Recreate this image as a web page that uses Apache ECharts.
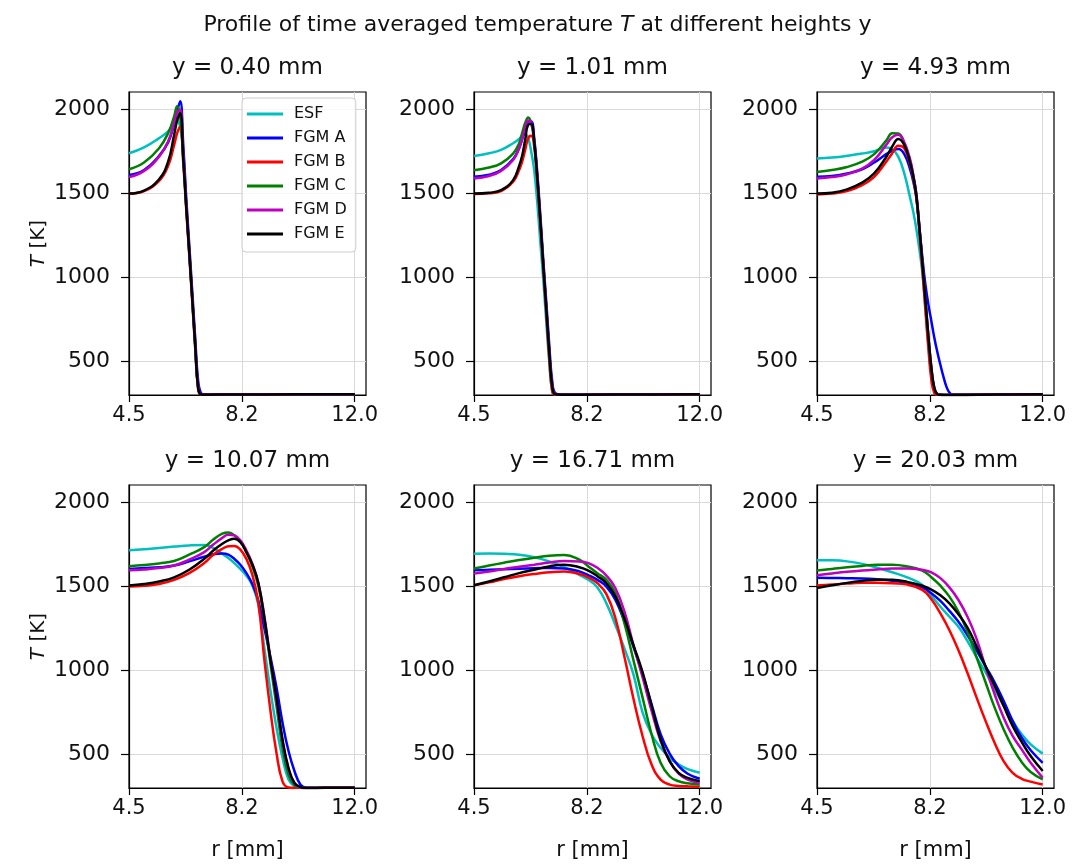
<!DOCTYPE html>
<html><head><meta charset="utf-8">
<script src="https://cdn.jsdelivr.net/npm/echarts@6/dist/echarts.min.js"></script>
<style>html,body{margin:0;padding:0;background:#fff}#c{width:1075px;height:865px}</style>
</head><body><div id="c"></div>
<script>
// ---------- labels ----------
const SERIES_NAMES = ['ESF', 'FGM A', 'FGM B', 'FGM C', 'FGM D', 'FGM E'];
const SERIES_COLORS = ['#00bfbf', '#0000ff', '#ff0000', '#008000', '#bf00bf', '#000000'];
const PANEL_TITLES = ['y = 0.40 mm', 'y = 1.01 mm', 'y = 4.93 mm', 'y = 10.07 mm', 'y = 16.71 mm', 'y = 20.03 mm'];
const X_TICKS = [4.5, 8.25, 12.0];
const X_TICK_LABELS = ['4.5', '8.2', '12.0'];
const Y_TICKS = [500, 1000, 1500, 2000];

// ---------- panel 1 : y = 0.40 mm ----------
const R1    = [4.5, 5.0, 5.5, 5.8, 6.0, 6.1, 6.2, 6.3, 6.4, 6.5, 6.6, 6.7, 6.8, 6.9, 7.0, 8.0, 10.0, 12.0];
const ESF1  = [1740, 1775, 1830, 1870, 1910, 1935, 1895, 1760, 1430, 1150, 880, 580, 340, 305, 303, 303, 304, 305];
const FGMA1 = [1610, 1640, 1725, 1805, 1915, 1990, 2050, 1800, 1480, 1200, 920, 640, 380, 310, 304, 303, 304, 305];
const FGMB1 = [1500, 1515, 1575, 1665, 1790, 1860, 1900, 1690, 1410, 1140, 860, 580, 330, 302, 302, 303, 304, 305];
const FGMC1 = [1645, 1685, 1770, 1860, 1960, 2020, 1960, 1720, 1430, 1160, 880, 600, 340, 303, 302, 303, 304, 305];
const FGMD1 = [1598, 1635, 1720, 1810, 1920, 1985, 2000, 1740, 1440, 1165, 885, 605, 345, 303, 302, 303, 304, 305];
const FGME1 = [1500, 1518, 1585, 1690, 1850, 1935, 1980, 1720, 1430, 1160, 880, 600, 340, 303, 302, 303, 304, 305];

// ---------- panel 2 : y = 1.01 mm ----------
const R2    = [4.5, 5.0, 5.4, 5.8, 6.0, 6.1, 6.2, 6.3, 6.4, 6.5, 6.6, 6.7, 6.8, 6.9, 7.0, 7.1, 7.2, 7.4, 8.0, 10.0, 12.0];
const ESF2  = [1724, 1740, 1760, 1800, 1825, 1845, 1855, 1830, 1750, 1640, 1450, 1220, 990, 740, 500, 320, 303, 302, 302, 303, 305];
const FGMA2 = [1600, 1612, 1640, 1705, 1772, 1825, 1885, 1930, 1930, 1830, 1630, 1380, 1110, 860, 600, 380, 312, 303, 302, 303, 305];
const FGMB2 = [1497, 1502, 1515, 1570, 1640, 1690, 1760, 1830, 1845, 1780, 1580, 1330, 1060, 790, 520, 320, 302, 302, 302, 303, 305];
const FGMC2 = [1639, 1655, 1680, 1738, 1800, 1860, 1920, 1953, 1920, 1810, 1600, 1350, 1080, 820, 560, 350, 305, 302, 302, 303, 305];
const FGMD2 = [1590, 1605, 1635, 1700, 1770, 1825, 1890, 1935, 1925, 1815, 1610, 1355, 1085, 825, 565, 360, 306, 302, 302, 303, 305];
const FGME2 = [1500, 1505, 1520, 1580, 1665, 1725, 1820, 1910, 1915, 1810, 1600, 1350, 1080, 820, 560, 350, 304, 302, 302, 303, 305];

// ---------- panel 3 : y = 4.93 mm ----------
const R3    = [4.5, 5.0, 5.5, 6.0, 6.4, 6.8, 7.0, 7.2, 7.4, 7.6, 7.7, 7.8, 7.9, 8.0, 8.1, 8.2, 8.3, 8.4, 8.5, 8.6, 8.7, 8.8, 8.9, 9.0, 10.5, 12.0];
const ESF3  = [1709, 1715, 1725, 1738, 1752, 1775, 1765, 1720, 1620, 1470, 1390, 1290, 1170, 1030, 830, 600, 420, 320, 303, 302, 302, 302, 302, 302, 303, 305];
const FGMA3 = [1600, 1605, 1620, 1645, 1685, 1735, 1755, 1765, 1735, 1640, 1570, 1475, 1300, 1120, 960, 840, 740, 640, 555, 480, 410, 350, 315, 303, 303, 305];
const FGMB3 = [1495, 1500, 1515, 1550, 1600, 1690, 1740, 1785, 1770, 1670, 1590, 1480, 1280, 1050, 810, 580, 390, 310, 301, 300, 300, 300, 300, 300, 303, 305];
const FGMC3 = [1629, 1640, 1658, 1690, 1735, 1815, 1860, 1858, 1800, 1690, 1605, 1495, 1300, 1090, 870, 650, 460, 340, 305, 301, 300, 300, 300, 300, 303, 305];
const FGMD3 = [1590, 1598, 1615, 1648, 1700, 1790, 1835, 1850, 1805, 1700, 1610, 1500, 1310, 1095, 875, 655, 465, 340, 305, 301, 300, 300, 300, 300, 303, 305];
const FGME3 = [1500, 1505, 1525, 1565, 1620, 1718, 1780, 1825, 1790, 1680, 1600, 1490, 1300, 1090, 870, 650, 460, 340, 305, 301, 300, 300, 300, 300, 303, 305];

// ---------- panel 4 : y = 10.07 mm ----------
const R4    = [4.5, 5.0, 5.5, 6.0, 6.5, 7.0, 7.3, 7.6, 7.8, 8.0, 8.2, 8.4, 8.6, 8.8, 9.0, 9.2, 9.4, 9.6, 9.8, 10.0, 10.2, 10.4, 11.0, 12.0];
const ESF4  = [1716, 1722, 1730, 1738, 1745, 1748, 1730, 1695, 1670, 1640, 1605, 1565, 1505, 1390, 1130, 880, 660, 480, 350, 310, 301, 300, 301, 302];
const FGMA4 = [1605, 1610, 1615, 1625, 1650, 1678, 1692, 1697, 1690, 1665, 1630, 1580, 1515, 1415, 1250, 1080, 900, 690, 520, 400, 320, 302, 301, 302];
const FGMB4 = [1500, 1505, 1515, 1540, 1580, 1640, 1690, 1725, 1740, 1742, 1720, 1665, 1570, 1400, 1060, 760, 510, 340, 303, 300, 300, 300, 301, 302];
const FGMC4 = [1621, 1628, 1638, 1652, 1690, 1735, 1780, 1815, 1822, 1805, 1770, 1705, 1620, 1500, 1300, 1040, 790, 540, 380, 315, 302, 300, 301, 302];
const FGMD4 = [1597, 1602, 1610, 1625, 1660, 1705, 1750, 1790, 1808, 1805, 1775, 1715, 1635, 1520, 1320, 1065, 820, 580, 410, 325, 303, 300, 301, 302];
const FGME4 = [1506, 1515, 1530, 1555, 1600, 1665, 1715, 1755, 1775, 1785, 1765, 1705, 1630, 1520, 1310, 1065, 840, 590, 420, 330, 305, 300, 301, 302];

// ---------- panel 5 : y = 16.71 mm ----------
const R5    = [4.5, 5.0, 5.5, 6.0, 6.5, 7.0, 7.5, 8.0, 8.3, 8.6, 8.9, 9.2, 9.5, 9.8, 10.1, 10.4, 10.7, 11.0, 11.3, 11.6, 12.0];
const ESF5  = [1696, 1697, 1695, 1690, 1675, 1650, 1615, 1570, 1540, 1495, 1400, 1270, 1130, 975, 750, 620, 540, 480, 440, 412, 391];
const FGMA5 = [1597, 1600, 1603, 1606, 1609, 1611, 1608, 1590, 1568, 1540, 1500, 1420, 1290, 1140, 980, 800, 620, 505, 430, 385, 355];
const FGMB5 = [1508, 1525, 1545, 1562, 1575, 1585, 1590, 1575, 1555, 1520, 1455, 1310, 1080, 830, 610, 440, 350, 320, 312, 310, 308];
const FGMC5 = [1607, 1625, 1642, 1658, 1672, 1684, 1688, 1660, 1620, 1580, 1540, 1460, 1280, 1060, 840, 620, 450, 370, 340, 328, 321];
const FGMD5 = [1577, 1590, 1605, 1618, 1630, 1643, 1652, 1650, 1640, 1612, 1565, 1490, 1350, 1150, 960, 760, 580, 460, 385, 350, 331];
const FGME5 = [1508, 1530, 1555, 1580, 1600, 1620, 1630, 1615, 1595, 1562, 1520, 1440, 1310, 1150, 990, 790, 590, 460, 390, 360, 341];

// ---------- panel 6 : y = 20.03 mm ----------
const R6    = [4.5, 5.0, 5.5, 6.0, 6.5, 7.0, 7.5, 8.0, 8.3, 8.6, 8.9, 9.2, 9.5, 9.8, 10.1, 10.4, 10.7, 11.0, 11.3, 11.6, 12.0];
const ESF6  = [1657, 1656, 1650, 1635, 1612, 1585, 1555, 1510, 1445, 1380, 1320, 1260, 1175, 1080, 990, 890, 790, 700, 620, 560, 505];
const FGMA6 = [1552, 1551, 1550, 1548, 1543, 1535, 1522, 1495, 1460, 1415, 1355, 1290, 1210, 1120, 1025, 930, 820, 700, 600, 525, 450];
const FGMB6 = [1506, 1512, 1518, 1522, 1523, 1520, 1512, 1480, 1425, 1340, 1240, 1120, 985, 840, 700, 570, 460, 390, 355, 338, 321];
const FGMC6 = [1595, 1605, 1615, 1623, 1630, 1630, 1620, 1595, 1555, 1505, 1440, 1350, 1230, 1080, 930, 780, 650, 540, 455, 395, 351];
const FGMD6 = [1567, 1578, 1588, 1596, 1602, 1607, 1608, 1600, 1585, 1550, 1495, 1420, 1320, 1190, 1020, 860, 720, 610, 530, 450, 361];
const FGME6 = [1492, 1508, 1522, 1533, 1541, 1540, 1528, 1505, 1482, 1448, 1400, 1335, 1255, 1145, 1025, 910, 790, 670, 575, 490, 401];

const PANELS = [
  { r: R1, vals: [ESF1, FGMA1, FGMB1, FGMC1, FGMD1, FGME1] },
  { r: R2, vals: [ESF2, FGMA2, FGMB2, FGMC2, FGMD2, FGME2] },
  { r: R3, vals: [ESF3, FGMA3, FGMB3, FGMC3, FGMD3, FGME3] },
  { r: R4, vals: [ESF4, FGMA4, FGMB4, FGMC4, FGMD4, FGME4] },
  { r: R5, vals: [ESF5, FGMA5, FGMB5, FGMC5, FGMD5, FGME5] },
  { r: R6, vals: [ESF6, FGMA6, FGMB6, FGMC6, FGMD6, FGME6] }
];

// ---------- layout ----------
const FONT = 'DejaVu Sans';
const COL_LEFT = [129, 474, 817];
const ROW_TOP = [92, 485];
const GW = 237, GH = 303;
const TXT = '#111';

const grids = [], xAxes = [], yAxes = [], series = [], graphics = [];
for (let p = 0; p < 6; p++) {
  const row = Math.floor(p / 3), col = p % 3;
  grids.push({ left: COL_LEFT[col], top: ROW_TOP[row], width: GW, height: GH,
    show: true, borderColor: '#000', borderWidth: 1.2, backgroundColor: 'transparent' });
  xAxes.push({
    type: 'value', gridIndex: p, min: 4.5, max: 12.375,
    name: row === 1 ? 'r [mm]' : '', nameLocation: 'middle', nameGap: 52,
    nameTextStyle: { fontFamily: FONT, fontSize: 21, color: TXT },
    axisLine: { show: true, onZero: false, lineStyle: { color: '#000', width: 1.2 } },
    axisTick: { show: true, inside: false, length: 7, customValues: X_TICKS, lineStyle: { color: '#000', width: 1.2 } },
    axisLabel: { show: true, margin: 10, customValues: X_TICKS, fontFamily: FONT, fontSize: 21, color: TXT,
      formatter: v => { const i = X_TICKS.indexOf(v); return i >= 0 ? X_TICK_LABELS[i] : ''; } },
    splitLine: { show: true, lineStyle: { color: '#d9d9d9', width: 1 } }
  });
  yAxes.push({
    type: 'value', gridIndex: p, min: 300, max: 2105,
    name: col === 0 ? '{i|T} [K]' : '', nameLocation: 'middle', nameGap: 80, nameRotate: 90,
    nameTextStyle: { fontFamily: FONT, fontSize: 20, color: TXT,
      rich: { i: { fontFamily: FONT, fontSize: 20, fontStyle: 'italic', color: TXT } } },
    axisLine: { show: true, onZero: false, lineStyle: { color: '#000', width: 1.2 } },
    axisTick: { show: true, inside: false, length: 8, customValues: Y_TICKS, lineStyle: { color: '#000', width: 1.2 } },
    axisLabel: { show: true, margin: 19, customValues: Y_TICKS, fontFamily: FONT, fontSize: 22, color: TXT,
      formatter: v => String(v) },
    splitLine: { show: true, lineStyle: { color: '#d9d9d9', width: 1 } }
  });
  graphics.push({
    type: 'text', x: COL_LEFT[col] + GW / 2, y: ROW_TOP[row] - 35,
    style: { text: PANEL_TITLES[p], fontFamily: FONT, fontSize: 23, fill: TXT, align: 'center', verticalAlign: 'top' }
  });
  const P = PANELS[p];
  for (let s = 0; s < 6; s++) {
    series.push({
      type: 'line', name: SERIES_NAMES[s], xAxisIndex: p, yAxisIndex: p,
      data: P.r.map((x, i) => [x, P.vals[s][i]]),
      symbol: 'none', showSymbol: false, smooth: 0.45,
      lineStyle: { color: SERIES_COLORS[s], width: 2.5 },
      itemStyle: { color: SERIES_COLORS[s] },
      emphasis: { disabled: true }, silent: true, z: 2
    });
  }
}

const chart = echarts.init(document.getElementById('c'), null, { renderer: 'canvas' });
chart.setOption({
  animation: false,
  backgroundColor: '#fff',
  title: {
    text: '{a|Profile of time averaged temperature }{b|T}{a| at different heights y}',
    left: 'center', top: 9,
    textStyle: { fontWeight: 'normal', rich: {
      a: { fontFamily: FONT, fontSize: 22, fontWeight: 'normal', color: TXT },
      b: { fontFamily: FONT, fontSize: 22, fontWeight: 'normal', fontStyle: 'italic', color: TXT }
    } }
  },
  legend: {
    data: SERIES_NAMES.map(n => ({ name: n, icon: 'rect' })), orient: 'vertical', left: 242, top: 98,
    itemWidth: 36, itemHeight: 3, itemGap: 8,
    padding: [8, 9, 10, 5],
    borderColor: '#cccccc', borderWidth: 1, borderRadius: 4,
    backgroundColor: 'rgba(255,255,255,0.8)',
    textStyle: { fontFamily: FONT, fontSize: 16, color: TXT, padding: [0, 0, 0, 6], lineHeight: 16 },
    selectedMode: false, z: 10
  },
  grid: grids, xAxis: xAxes, yAxis: yAxes, series: series,
  graphic: graphics
});
</script></body></html>
